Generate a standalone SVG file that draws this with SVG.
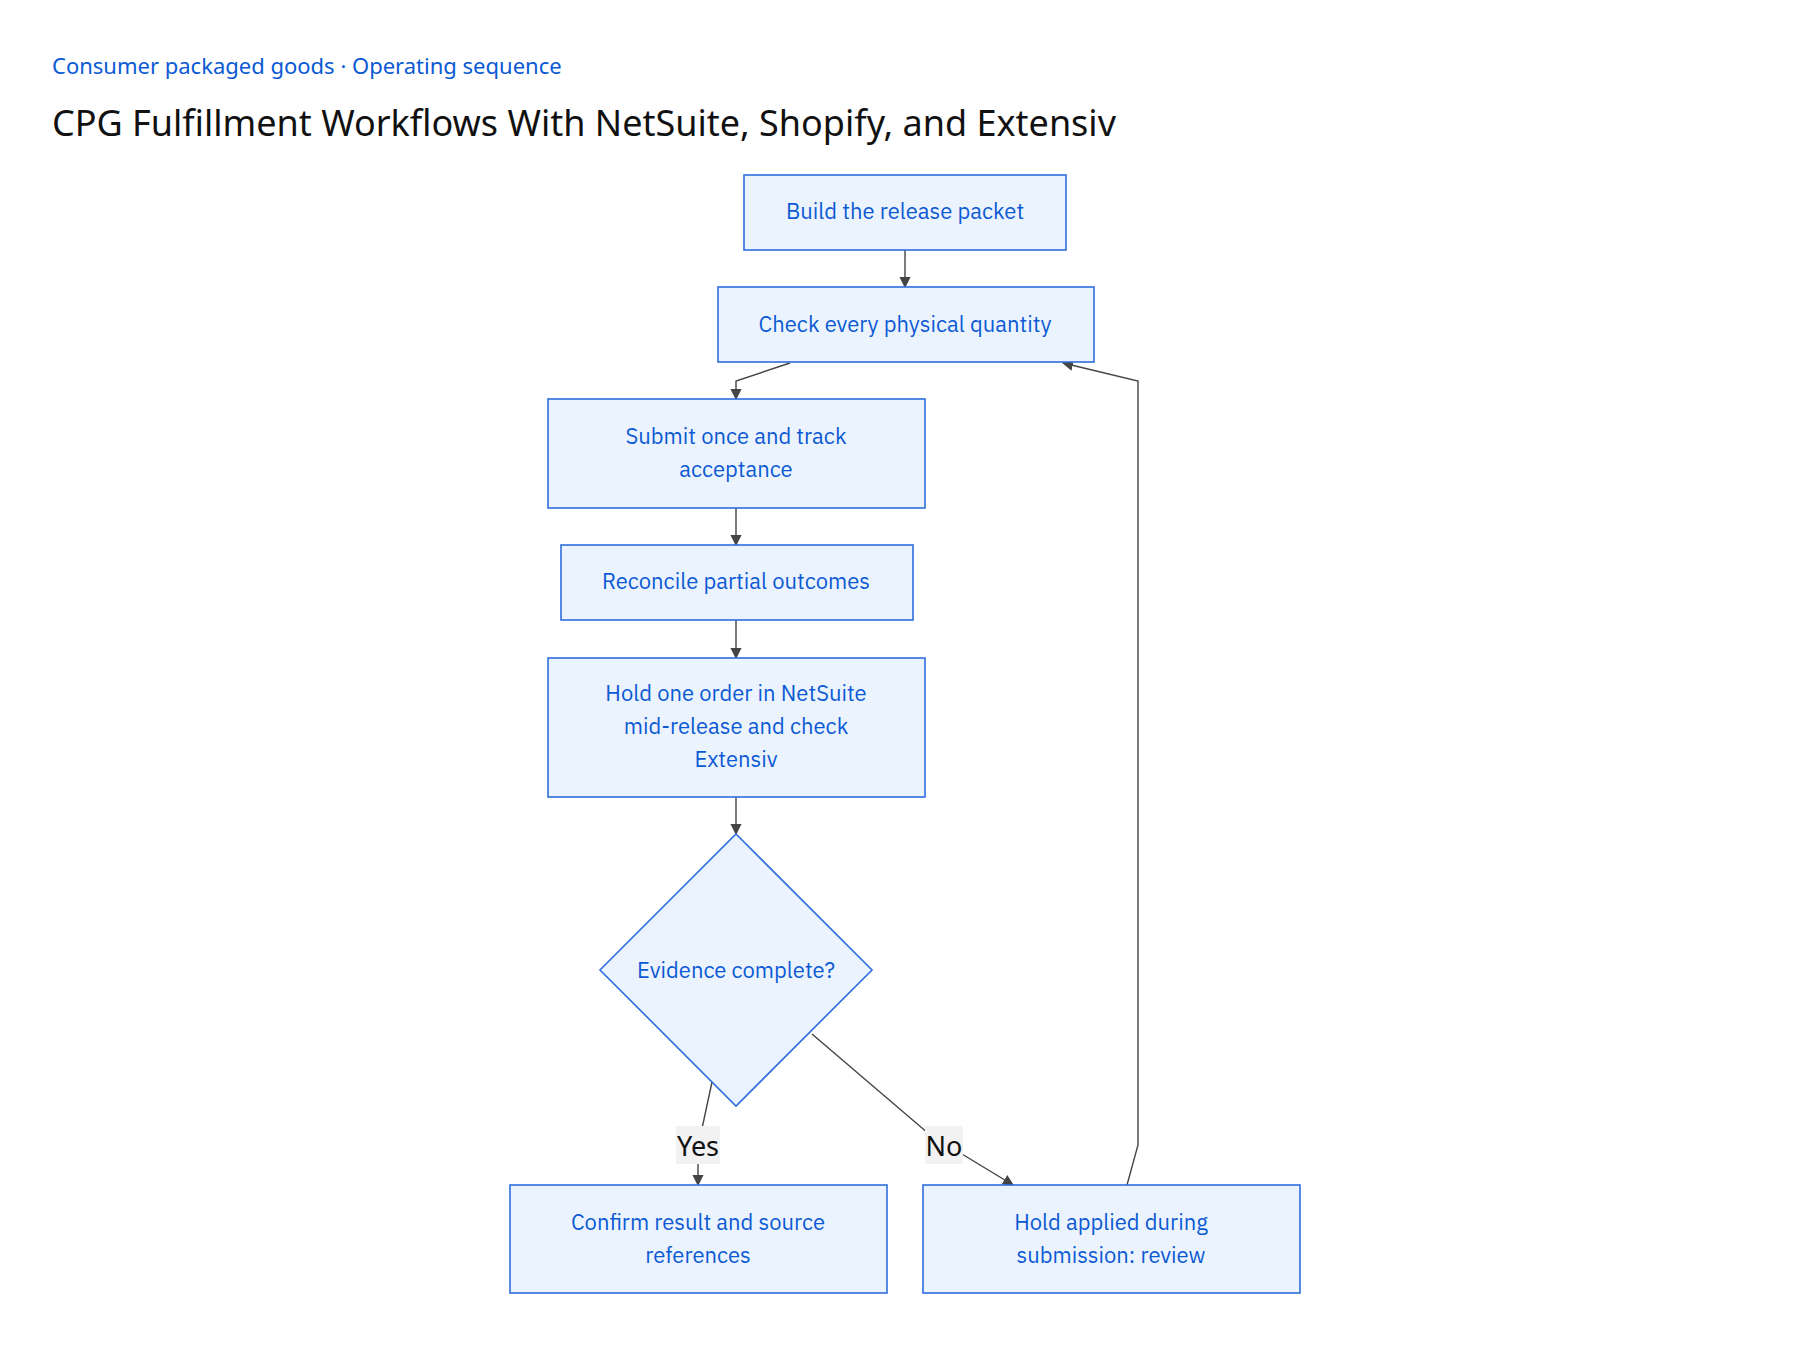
<svg xmlns="http://www.w3.org/2000/svg" width="1800" height="1350" viewBox="0 0 1800 1350">
<defs>
<marker id="ah" viewBox="0 0 10 10" refX="9" refY="5" markerWidth="8" markerHeight="8" orient="auto-start-reverse"><path d="M0,0L10,5L0,10z" fill="#444"/></marker>
<style>
.n{fill:#ebf3fe;stroke:#2f6fdc;stroke-width:1.6}
.t{font-family:"IBM Plex Sans","Noto Sans","Liberation Sans",sans-serif;font-size:22px;fill:#0b5ad4;text-anchor:middle}
.e{fill:none;stroke:#444;stroke-width:1.4;marker-end:url(#ah)}
.l{font-family:"Noto Sans","Liberation Sans",sans-serif;font-size:27px;fill:#111;text-anchor:middle}
.lb{fill:#f2f2f2}
</style>
</defs>
<rect width="1800" height="1350" fill="#fff"/>
<text x="52" y="74" style="font-family:'Noto Sans','Liberation Sans',sans-serif;font-size:22px;fill:#0b5ad4">Consumer packaged goods · Operating sequence</text>
<text x="52" y="136" style="font-family:'Noto Sans','Liberation Sans',sans-serif;font-size:36px;fill:#111">CPG Fulfillment Workflows With NetSuite, Shopify, and Extensiv</text>
<g id="connectors">
<path class="e" d="M905,250V287"/>
<path class="e" d="M790,363L736,381V399"/>
<path class="e" d="M736,508V545"/>
<path class="e" d="M736,620V658"/>
<path class="e" d="M736,797V834"/>
<path class="e" d="M712,1082L698,1147V1185"/>
<path class="e" d="M812,1034L929,1134L1013,1185"/>
<path class="e" d="M1127,1185L1138,1145V381L1063,363"/>
<rect class="lb" x="676" y="1126" width="44" height="38"/>
<text class="l" x="698" y="1156">Yes</text>
<rect class="lb" x="925" y="1126" width="38" height="38"/>
<text class="l" x="944" y="1156">No</text>
</g>
<g id="n1"><rect class="n" x="744" y="175" width="322" height="75"/><text class="t" x="905" y="219">Build the release packet</text></g>
<g id="n2"><rect class="n" x="718" y="287" width="376" height="75"/><text class="t" x="905" y="332">Check every physical quantity</text></g>
<g id="n3"><rect class="n" x="548" y="399" width="377" height="109"/><text class="t" x="736" y="444">Submit once and track</text><text class="t" x="736" y="477">acceptance</text></g>
<g id="n4"><rect class="n" x="561" y="545" width="352" height="75"/><text class="t" x="736" y="589">Reconcile partial outcomes</text></g>
<g id="n5"><rect class="n" x="548" y="658" width="377" height="139"/><text class="t" x="736" y="701">Hold one order in NetSuite</text><text class="t" x="736" y="734">mid-release and check</text><text class="t" x="736" y="767">Extensiv</text></g>
<g id="n6"><path class="n" d="M736,834L872,970L736,1106L600,970Z"/><text class="t" x="736" y="978">Evidence complete?</text></g>
<g id="n7"><rect class="n" x="510" y="1185" width="377" height="108"/><text class="t" x="698" y="1230">Confirm result and source</text><text class="t" x="698" y="1263">references</text></g>
<g id="n8"><rect class="n" x="923" y="1185" width="377" height="108"/><text class="t" x="1111" y="1230">Hold applied during</text><text class="t" x="1111" y="1263">submission: review</text></g>
</svg>
